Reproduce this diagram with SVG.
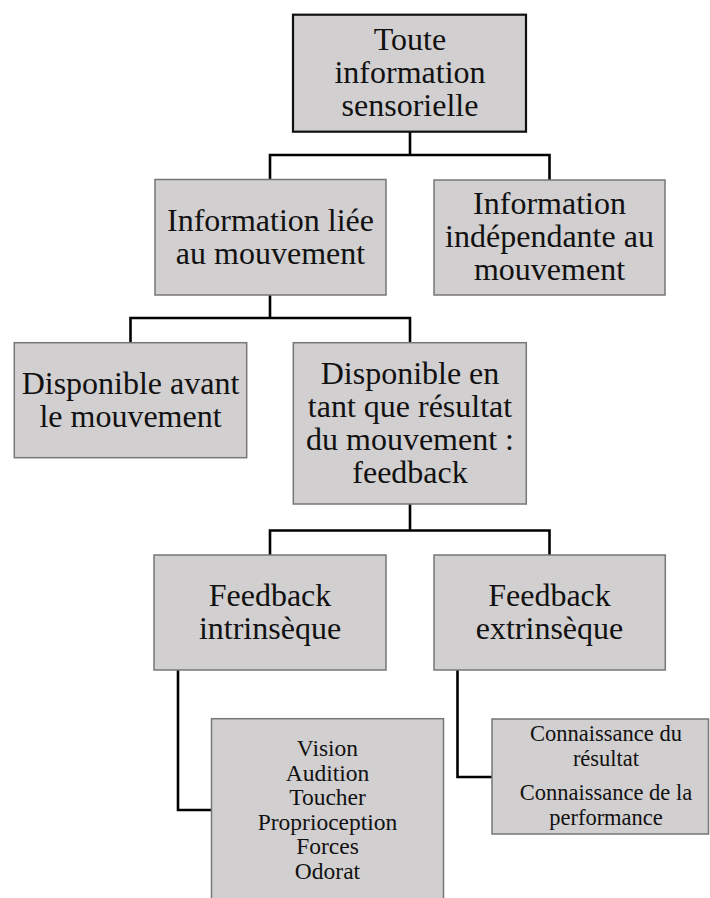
<svg xmlns="http://www.w3.org/2000/svg" width="710" height="898" viewBox="0 0 710 898">
  <style>
    .box { fill: #d1cfd0; stroke: #777777; stroke-width: 1.5; }
    .root { fill: #d1cfd0; stroke: #111111; stroke-width: 2.2; }
    .lbl { font-family: "Liberation Serif", "Times New Roman", serif; font-size: 32px; fill: #111111; text-anchor: middle; }
    .small { font-family: "Liberation Serif", "Times New Roman", serif; font-size: 23.5px; fill: #111111; text-anchor: middle; }
    .tiny { font-family: "Liberation Serif", "Times New Roman", serif; font-size: 22.5px; fill: #111111; text-anchor: middle; }
    .wire { fill: none; stroke: #000000; stroke-width: 2.6; stroke-linejoin: miter; }
  </style>
  <rect width="710" height="898" fill="#ffffff"/>

  <!-- connectors -->
  <g id="connectors">
    <path class="wire" d="M410,132 V155 M270,180 V155 H549.5 V180"/>
    <path class="wire" d="M270,295 V318 M130.5,343 V318 H410 V343"/>
    <path class="wire" d="M410,504 V530.5 M270,555 V530.5 H549.5 V555"/>
    <path class="wire" d="M178,670 V810 H211.5"/>
    <path class="wire" d="M457.5,670 V777 H492"/>
  </g>

  <g id="n-sensorielle">
    <rect class="root" x="293" y="14.7" width="233" height="117"/>
    <text class="lbl" x="410" y="50.2">Toute</text>
    <text class="lbl" x="410" y="83.2">information</text>
    <text class="lbl" x="410" y="116.2">sensorielle</text>
  </g>

  <g id="n-liee">
    <rect class="box" x="155" y="179.5" width="231" height="115.5"/>
    <text class="lbl" x="270.5" y="231">Information liée</text>
    <text class="lbl" x="270.5" y="264">au mouvement</text>
  </g>

  <g id="n-independante">
    <rect class="box" x="434" y="180" width="231" height="115"/>
    <text class="lbl" x="549.5" y="214">Information</text>
    <text class="lbl" x="549.5" y="247">indépendante au</text>
    <text class="lbl" x="549.5" y="280">mouvement</text>
  </g>

  <g id="n-avant">
    <rect class="box" x="14.3" y="342.7" width="232.4" height="115"/>
    <text class="lbl" x="130.5" y="393.7">Disponible avant</text>
    <text class="lbl" x="130.5" y="426.7">le mouvement</text>
  </g>

  <g id="n-resultat">
    <rect class="box" x="293.3" y="342.7" width="233" height="161.3"/>
    <text class="lbl" x="410" y="383.8">Disponible en</text>
    <text class="lbl" x="410" y="416.8">tant que résultat</text>
    <text class="lbl" x="410" y="449.8">du mouvement :</text>
    <text class="lbl" x="410" y="482.8">feedback</text>
  </g>

  <g id="n-intrinseque">
    <rect class="box" x="154" y="555" width="232" height="115"/>
    <text class="lbl" x="270" y="606">Feedback</text>
    <text class="lbl" x="270" y="639">intrinsèque</text>
  </g>

  <g id="n-extrinseque">
    <rect class="box" x="434" y="555" width="231.3" height="115"/>
    <text class="lbl" x="549.5" y="606">Feedback</text>
    <text class="lbl" x="549.5" y="639">extrinsèque</text>
  </g>

  <g id="n-sens">
    <rect class="box" x="211.5" y="718.7" width="232" height="190"/>
    <text class="small" x="327.5" y="756">Vision</text>
    <text class="small" x="327.5" y="780.6">Audition</text>
    <text class="small" x="327.5" y="805.2">Toucher</text>
    <text class="small" x="327.5" y="829.8">Proprioception</text>
    <text class="small" x="327.5" y="854.4">Forces</text>
    <text class="small" x="327.5" y="879">Odorat</text>
  </g>

  <g id="n-connaissance">
    <rect class="box" x="492" y="719" width="216.5" height="115"/>
    <text class="tiny" x="606" y="741">Connaissance du</text>
    <text class="tiny" x="606" y="766">résultat</text>
    <text class="tiny" x="606" y="800">Connaissance de la</text>
    <text class="tiny" x="606" y="825">performance</text>
  </g>
</svg>
